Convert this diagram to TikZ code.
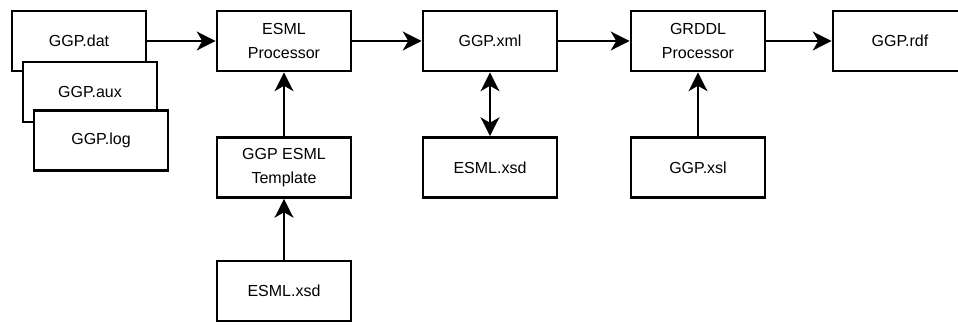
\documentclass[tikz,border=0pt]{standalone}
\usepackage{fontspec}
\setmainfont{Liberation Sans}
\usetikzlibrary{arrows.meta}
\begin{document}
\begin{tikzpicture}[x=0.75pt,y=-0.75pt,
  box/.style={draw=black,fill=white,line width=2.1pt,minimum width=100.5pt,minimum height=45pt,inner sep=0pt,align=center,font=\fontsize{12pt}{17.5pt}\selectfont},
  conn/.style={line width=2.1pt,-{Stealth[length=14pt,width=14pt,inset=4pt]}},
  conn2/.style={line width=2.1pt,{Stealth[length=14pt,width=14pt,inset=4pt]}-{Stealth[length=14pt,width=14pt,inset=4pt]}}]
\useasboundingbox (0,0) rectangle (958,326);
\node[box] (dat) at (79,41) {GGP.dat};
\node[box] (aux) at (90,92) {GGP.aux};
\node[box] (log) at (101,140.5) {GGP.log};
\node[box] (esmlp) at (284,41) {ESML\\Processor};
\node[box] (xml) at (490,41) {GGP.xml};
\node[box] (grddl) at (698,41) {GRDDL\\Processor};
\node[box] (rdf) at (900,41) {GGP.rdf};
\node[box] (tmpl) at (284,167.5) {GGP ESML\\Template};
\node[box] (xsdm) at (490,167.5) {ESML.xsd};
\node[box] (xsl) at (698,167.5) {GGP.xsl};
\node[box] (xsdb) at (284,291) {ESML.xsd};
\draw[conn] (dat) -- (esmlp);
\draw[conn] (esmlp) -- (xml);
\draw[conn] (xml) -- (grddl);
\draw[conn] (grddl) -- (rdf);
\draw[conn] (tmpl) -- (esmlp);
\draw[conn] (xsdb) -- (tmpl);
\draw[conn2] (xml) -- (xsdm);
\draw[conn] (xsl) -- (grddl);
\end{tikzpicture}
\end{document}
